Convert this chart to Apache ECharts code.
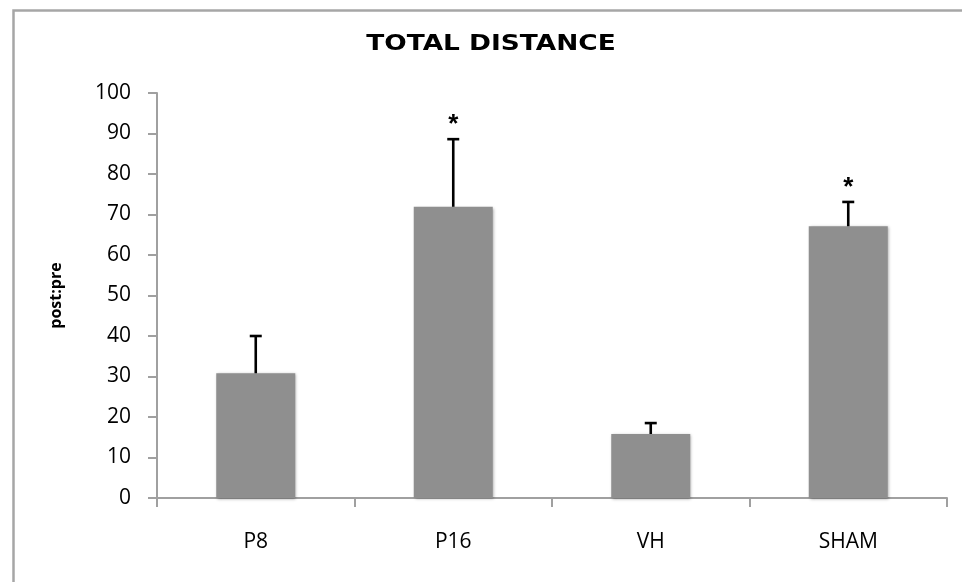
<!DOCTYPE html>
<html>
<head>
<meta charset="utf-8">
<script src="https://cdn.jsdelivr.net/npm/echarts@6/dist/echarts.min.js"></script>
<style>html,body{margin:0;padding:0;background:#fff}#c{width:962px;height:582px}</style>
</head>
<body>
<div id="c"></div>
<script>
const titleText = 'TOTAL DISTANCE';
const yAxisName = 'post:pre';
const categories = ['P8', 'P16', 'VH', 'SHAM'];
const means = [30.8, 71.9, 15.8, 67.1];
const errUp = [9.2, 16.7, 2.7, 6.0];
const marks = ['', '*', '', '*'];
const yTicks = { min: 0, max: 100, interval: 10 };

const chart = echarts.init(document.getElementById('c'));
const errData = categories.map((c, i) => [i, means[i], means[i] + errUp[i], marks[i]]);

chart.setOption({
  animation: false,
  backgroundColor: '#fff',
  graphic: [
    { type: 'rect', left: 11, top: 8, shape: { width: 1200, height: 1200 }, style: { fill: 'none', stroke: '#a6a6a6', lineWidth: 2.5 }, silent: true, z: -1 },
    { type: 'text', x: 491, y: 44, scaleX: 1.2, style: { text: titleText, font: 'bold 22px "DejaVu Sans", Verdana, sans-serif', fill: '#000', textAlign: 'center', textVerticalAlign: 'middle' } }
  ],
  grid: { left: 157, right: 15, top: 93, bottom: 84, containLabel: false },
  xAxis: {
    type: 'category',
    data: categories,
    axisLine: { lineStyle: { color: '#a0a0a0', width: 2 } },
    axisTick: { show: true, length: 9, lineStyle: { color: '#a0a0a0', width: 2 } },
    axisLabel: { color: '#000', fontSize: 21, fontFamily: '"Open Sans", "Liberation Sans", sans-serif', margin: 34 }
  },
  yAxis: {
    type: 'value',
    min: yTicks.min, max: yTicks.max, interval: yTicks.interval,
    name: yAxisName,
    nameLocation: 'middle',
    nameGap: 93,
    nameRotate: 90,
    nameTextStyle: { color: '#000', fontSize: 16, fontWeight: 'bold', fontFamily: '"Open Sans", "Liberation Sans", sans-serif' },
    axisLine: { show: true, lineStyle: { color: '#a0a0a0', width: 2 } },
    axisTick: { show: true, length: 9, lineStyle: { color: '#a0a0a0', width: 2 } },
    splitLine: { show: false },
    axisLabel: { color: '#000', fontSize: 21, fontFamily: '"Open Sans", "Liberation Sans", sans-serif', margin: 26 }
  },
  series: [
    {
      type: 'bar',
      data: means,
      barWidth: '40%',
      itemStyle: { color: '#8f8f8f', shadowColor: 'rgba(0,0,0,0.35)', shadowBlur: 3, shadowOffsetX: 1, shadowOffsetY: 1 },
      z: 2
    },
    {
      type: 'custom',
      data: errData,
      z: 5,
      renderItem: function (params, api) {
        const x = api.value(0);
        const base = api.coord([x, api.value(1)]);
        const top = api.coord([x, api.value(2)]);
        const hw = 6;
        const children = [
          { type: 'line', shape: { x1: base[0], y1: base[1], x2: top[0], y2: top[1] }, style: { stroke: '#000', lineWidth: 2.6 } },
          { type: 'line', shape: { x1: top[0] - hw, y1: top[1], x2: top[0] + hw, y2: top[1] }, style: { stroke: '#000', lineWidth: 2.6 } }
        ];
        const m = api.value(3);
        if (m) {
          children.push({ type: 'text', x: top[0], y: top[1] - 14, style: { text: m, font: 'bold 26px "Liberation Sans", sans-serif', fill: '#000', textAlign: 'center', textVerticalAlign: 'middle' } });
        }
        return { type: 'group', children: children };
      }
    }
  ]
});
</script>
</body>
</html>
